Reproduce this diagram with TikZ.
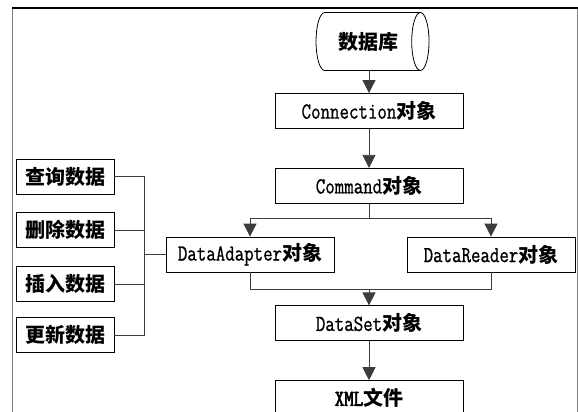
\documentclass[tikz,border=0pt]{standalone}
\usepackage{fontspec}
\setmonofont{Latin Modern Mono}[FakeStretch=0.8, FakeBold=0.8]
\newfontfamily\zhfont{Noto Sans CJK SC}
\newfontfamily\headmono{Latin Modern Mono}[FakeStretch=0.8, FakeBold=2.5]
\usetikzlibrary{shapes.geometric, arrows.meta, positioning}
\definecolor{linegray}{HTML}{3C3C3C}
\definecolor{framegray}{HTML}{808080}
\newcommand{\zhtext}[1]{{\zhfont\bfseries\fontsize{20}{22}\selectfont #1}}

\begin{document}
\begin{tikzpicture}[
    x=1pt, y=1pt,
    every node/.style={font=\ttfamily\fontsize{23}{24}\selectfont},
    box/.style={
        rectangle,
        draw=black,
        line width=0.8pt,
        minimum width=188pt,
        minimum height=35pt,
        inner sep=0pt
    },
    opbox/.style={box, minimum width=98pt},
    objbox/.style={box, minimum width=168pt},
    store/.style={
        cylinder,
        draw=black,
        line width=0.8pt,
        minimum width=58pt,
        minimum height=113pt,
        aspect=0.9,
        inner sep=0pt
    },
    myarrow/.style={
        -{Triangle[length=13pt, width=13pt]},
        line width=0.8pt,
        draw=linegray
    },
    myline/.style={line width=0.8pt, draw=linegray}
]
\useasboundingbox (0,0) rectangle (578,-412);
\clip (0,0) rectangle (578,-412);

% Frame
\draw[framegray, line width=0.8pt] (12.5,-8) -- (12.5,-420);
\draw[framegray, line width=0.8pt] (577,-8) -- (577,-420);
\draw[black, line width=1.6pt] (12,-8) -- (578,-8);

% Nodes - main column
\node[store] (db) at (368,-41.5) {\zhtext{数据库}};
\node[box] (conn) at (369,-111) {Connection\zhtext{对象}};
\node[box, below=39pt of conn] (cmd) {Command\zhtext{对象}};
\node[objbox] (adapter) at (250,-254.5) {DataAdapter\zhtext{对象}};
\node[objbox] (reader) at (491,-254.5) {DataReader\zhtext{对象}};
\node[box, below=33pt of conn |- adapter.south] (ds) {DataSet\zhtext{对象}};
\node[box, below=39pt of ds] (xml) {{\headmono XML}\zhtext{文件}};

% Nodes - operations
\node[opbox] (query) at (65,-176.5) {\zhtext{查询数据}};
\node[opbox, below=18pt of query] (delete) {\zhtext{删除数据}};
\node[opbox, below=18pt of delete] (insert) {\zhtext{插入数据}};
\node[opbox, below=15pt of insert] (update) {\zhtext{更新数据}};

% Junctions
\coordinate (bus) at (144,-254.5);
\coordinate[below=15pt of cmd.south] (split);
\coordinate[below=17pt of adapter.south] (merge);

% Arrows - main column
\draw[myarrow] (conn.north |- db.south) -- (conn.north);
\draw[myarrow] (conn) -- (cmd);
\draw[myline] (cmd.south) -- (split);
\draw[myarrow] (split) -| (adapter.north);
\draw[myarrow] (split) -| (reader.north);
\draw[myline] (adapter.south) -- (merge) -| (reader.south);
\draw[myarrow] (merge -| ds.north) -- (ds.north);
\draw[myarrow] (ds) -- (xml);

% Operations to adapter
\draw[myline] (query.east) -| (update.east -| bus) -- (update.east);
\draw[myline] (delete.east) -- (delete.east -| bus);
\draw[myline] (insert.east) -- (insert.east -| bus);
\draw[myline] (bus) -- (adapter.west);

\end{tikzpicture}
\end{document}
